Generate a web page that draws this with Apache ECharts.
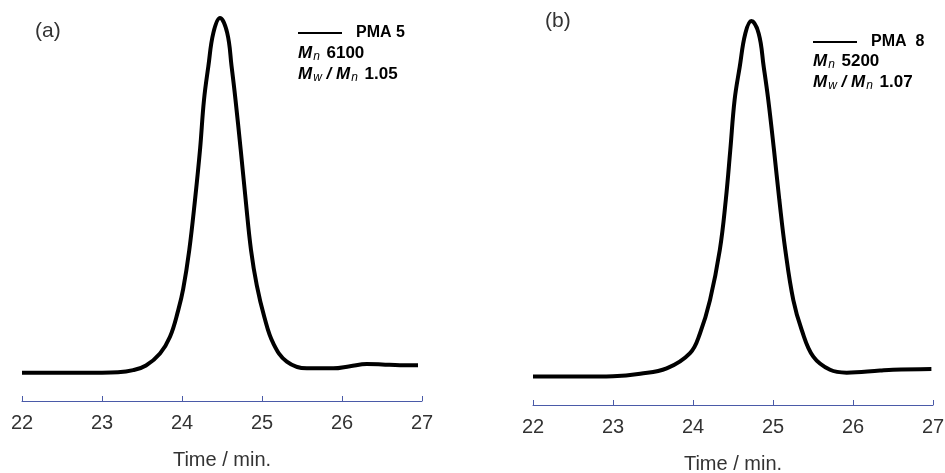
<!DOCTYPE html>
<html>
<head>
<meta charset="utf-8">
<script src="https://cdn.jsdelivr.net/npm/echarts@6/dist/echarts.min.js"></script>
<style>
  html, body { margin: 0; padding: 0; background: #fff; }
  #chart { width: 945px; height: 473px; }
</style>
</head>
<body>
<div id="chart"></div>
<script>
// (a) PMA 5 的 GPC 曲线 (Time / min., 相对强度)
const timeA = [22.0, 22.5, 23.0, 23.2, 23.39, 23.55, 23.725, 23.85, 23.954, 24.015, 24.091, 24.1625, 24.225, 24.275, 24.329, 24.392, 24.475,
  24.565, 24.62, 24.669, 24.734, 24.796, 24.8625, 24.935, 25.03, 25.14, 25.31, 25.56, 25.89, 26.1, 26.31, 26.5, 26.725, 26.95]
const signalA = [0.0, 0.0, 0.0, 0.1, 0.7, 2.0, 5.4, 10.1, 17.7, 23.6, 34.6, 48.7, 62.8, 76.9, 86.3, 95.8, 100,
  95.8, 86.3, 76.9, 62.8, 48.7, 34.6, 24.6, 15.6, 8.3, 3.1, 1.2, 1.2, 1.8, 2.4, 2.3, 2.1, 2.1]

// (b) PMA 8
const timeB = [22.0, 22.6, 23.0, 23.34, 23.671, 23.963, 24.088, 24.2125, 24.335, 24.41, 24.466, 24.52, 24.584, 24.654, 24.729,
  24.821, 24.884, 24.941, 25.0125, 25.079, 25.154, 25.254, 25.359, 25.504, 25.713, 25.921, 26.338, 26.5, 26.98]
const signalB = [0.0, 0.0, 0.1, 0.8, 2.3, 6.6, 12.2, 21.5, 35.6, 49.7, 63.7, 77.8, 87.1, 96.5, 100,
  96.5, 87.1, 77.8, 63.7, 49.7, 35.6, 21.5, 13.1, 5.6, 1.9, 1.1, 1.7, 1.9, 2.1]

const legendNames = ['PMA 5', 'PMA  8']
const mnValues = ['6100', '5200']
const pdiValues = ['1.05', '1.07']

const FONT = 'Liberation Sans'

const chart = echarts.init(document.getElementById('chart'))

const grids = [
  { left: 22, top: 18, width: 400, height: 383, outerBoundsMode: 'none', containLabel: false },
  { left: 533, top: 21, width: 400, height: 384, outerBoundsMode: 'none', containLabel: false }
]

const richStyle = {
  m: { fontFamily: FONT, fontSize: 17, fontWeight: 'bold', fontStyle: 'italic', color: '#000' },
  s: { fontFamily: FONT, fontSize: 12, fontStyle: 'italic', color: '#000', padding: [7, 0, 0, 1] },
  v: { fontFamily: FONT, fontSize: 17, fontWeight: 'bold', color: '#000' }
}

function xAxisOf (i) {
  return {
    type: 'value',
    gridIndex: i,
    min: 22,
    max: 27,
    interval: 1,
    name: 'Time / min.',
    nameLocation: 'middle',
    nameGap: 49,
    nameTextStyle: { fontFamily: FONT, fontSize: 20, color: '#333' },
    axisLine: { show: true, onZero: false, lineStyle: { color: '#4a5aa8', width: 1 } },
    axisTick: { show: true, inside: true, length: 5, lineStyle: { color: '#4a5aa8' } },
    axisLabel: { fontFamily: FONT, fontSize: 20, color: '#333', margin: 12 },
    splitLine: { show: false }
  }
}

function yAxisOf (i) {
  return { type: 'value', gridIndex: i, min: -8, max: 100, show: false }
}

function seriesOf (i, name, times, values) {
  return {
    type: 'line',
    name: name,
    xAxisIndex: i,
    yAxisIndex: i,
    data: times.map((t, k) => [t, values[k]]),
    showSymbol: false,
    smooth: 0.4,
    lineStyle: { color: '#000', width: 4 },
    itemStyle: { color: '#000' }
  }
}

// 图例: 线 + 名称
function legendOf (name, left, top) {
  return {
    data: [name],
    left: left,
    top: top,
    icon: 'rect',
    itemWidth: 44,
    itemHeight: 2,
    padding: 0,
    textStyle: { fontFamily: FONT, fontSize: 16, fontWeight: 'bold', color: '#000', padding: [0, 0, 0, 9] }
  }
}

// Mn 与 Mw/Mn 文本
function infoText (left, top, mn, pdi) {
  return [
    {
      type: 'text',
      left: left,
      top: top,
      style: { text: '{m|M}{s|n}  {v|' + mn + '}', rich: richStyle }
    },
    {
      type: 'text',
      left: left,
      top: top + 21,
      style: { text: '{m|M}{s|w}{m| / M}{s|n}  {v|' + pdi + '}', rich: richStyle }
    }
  ]
}

chart.setOption({
  animation: false,
  backgroundColor: '#fff',
  title: [
    { text: '(a)', left: 35, top: 21, padding: 0, textStyle: { fontFamily: FONT, fontSize: 21, fontWeight: 'normal', color: '#333' } },
    { text: '(b)', left: 545, top: 11, padding: 0, textStyle: { fontFamily: FONT, fontSize: 21, fontWeight: 'normal', color: '#333' } }
  ],
  grid: grids,
  xAxis: [xAxisOf(0), xAxisOf(1)],
  yAxis: [yAxisOf(0), yAxisOf(1)],
  legend: [legendOf(legendNames[0], 298, 25), legendOf(legendNames[1], 813, 34)],
  series: [
    seriesOf(0, legendNames[0], timeA, signalA),
    seriesOf(1, legendNames[1], timeB, signalB)
  ],
  graphic: [
    ...infoText(298, 45, mnValues[0], pdiValues[0]),
    ...infoText(813, 53, mnValues[1], pdiValues[1])
  ]
})
</script>
</body>
</html>
